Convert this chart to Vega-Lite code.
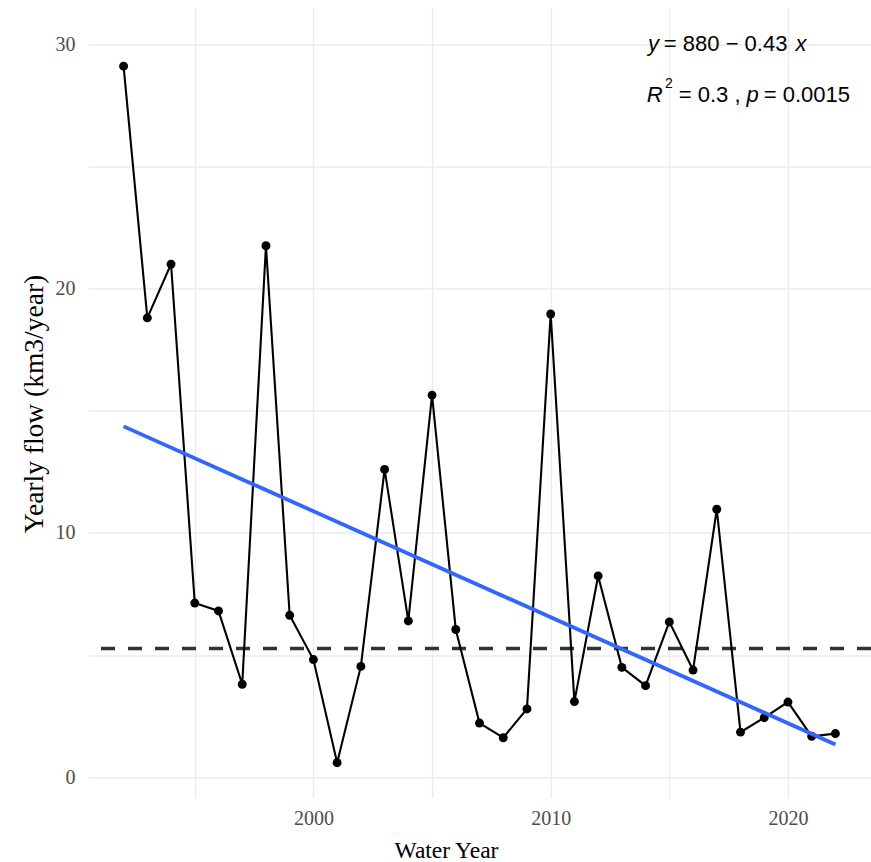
{
  "$schema": "https://vega.github.io/schema/vega-lite/v6.json",
  "width": 783,
  "height": 790,
  "autosize": {"type": "none"},
  "padding": {"left": 88, "top": 7.5, "right": 0, "bottom": 64.5},
  "background": "white",
  "config": {
    "view": {"stroke": null},
    "axis": {
      "domain": false,
      "ticks": false,
      "gridColor": "#EBEBEB",
      "gridWidth": 1.4,
      "labelFont": "Liberation Serif",
      "labelFontSize": 20,
      "labelColor": "#4D4D4D",
      "titleFont": "Liberation Serif",
      "titleFontWeight": "normal",
      "titleColor": "black"
    },
    "text": {"font": "Liberation Sans", "fontSize": 22, "align": "left", "baseline": "middle", "color": "black"}
  },
  "datasets": {
    "flow": [
      {"year": 1992, "flow": 29.1},
      {"year": 1993, "flow": 18.8},
      {"year": 1994, "flow": 21.0},
      {"year": 1995, "flow": 7.13},
      {"year": 1996, "flow": 6.81},
      {"year": 1997, "flow": 3.81},
      {"year": 1998, "flow": 21.75},
      {"year": 1999, "flow": 6.63},
      {"year": 2000, "flow": 4.82},
      {"year": 2001, "flow": 0.6},
      {"year": 2002, "flow": 4.54},
      {"year": 2003, "flow": 12.6},
      {"year": 2004, "flow": 6.4},
      {"year": 2005, "flow": 15.64},
      {"year": 2006, "flow": 6.05},
      {"year": 2007, "flow": 2.22},
      {"year": 2008, "flow": 1.62},
      {"year": 2009, "flow": 2.8},
      {"year": 2010, "flow": 18.96},
      {"year": 2011, "flow": 3.1},
      {"year": 2012, "flow": 8.24},
      {"year": 2013, "flow": 4.5},
      {"year": 2014, "flow": 3.75},
      {"year": 2015, "flow": 6.36},
      {"year": 2016, "flow": 4.39},
      {"year": 2017, "flow": 10.97},
      {"year": 2018, "flow": 1.85},
      {"year": 2019, "flow": 2.44},
      {"year": 2020, "flow": 3.08},
      {"year": 2021, "flow": 1.68},
      {"year": 2022, "flow": 1.79}
    ],
    "one": [{"k": 1}]
  },
  "layer": [
    {
      "data": {"name": "flow"},
      "mark": {"type": "line", "color": "black", "strokeWidth": 2, "opacity": 0},
      "encoding": {
        "x": {
          "field": "year",
          "type": "quantitative",
          "scale": {"domain": [1990.5, 2023.5], "nice": false, "zero": false},
          "axis": {
            "title": "Water Year",
            "titleFontSize": 23.5,
            "values": [1995, 2000, 2005, 2010, 2015, 2020],
            "format": "d",
            "labelExpr": "datum.value % 10 === 0 ? datum.label : ''",
            "labelPadding": 11,
            "titleX": 358,
            "titleY": 60,
            "titleAlign": "center",
            "titleBaseline": "alphabetic"
          }
        },
        "y": {
          "field": "flow",
          "type": "quantitative",
          "scale": {"domain": [-0.825, 31.5], "nice": false, "zero": false},
          "axis": {
            "title": "Yearly flow (km3/year)",
            "titleFontSize": 27.5,
            "values": [0, 5, 10, 15, 20, 25, 30],
            "labelExpr": "datum.value % 10 === 0 ? datum.label : ''",
            "labelPadding": 13,
            "titleX": -46,
            "titleY": 396,
            "titleAlign": "center",
            "titleAngle": -90,
            "titleBaseline": "alphabetic"
          }
        }
      }
    },
    {
      "data": {"name": "one"},
      "mark": {"type": "rule", "color": "#333333", "strokeWidth": 3.5, "strokeDash": [14, 13]},
      "encoding": {"y": {"datum": 5.27, "type": "quantitative"}}
    },
    {
      "data": {"name": "flow"},
      "mark": {"type": "line", "color": "black", "strokeWidth": 2.1},
      "encoding": {
        "x": {"field": "year", "type": "quantitative"},
        "y": {"field": "flow", "type": "quantitative"}
      }
    },
    {
      "data": {"name": "flow"},
      "mark": {"type": "point", "filled": true, "color": "black", "size": 80, "opacity": 1},
      "encoding": {
        "x": {"field": "year", "type": "quantitative"},
        "y": {"field": "flow", "type": "quantitative"}
      }
    },
    {
      "data": {"name": "flow"},
      "transform": [{"regression": "flow", "on": "year", "extent": [1992, 2022]}],
      "mark": {"type": "line", "color": "#3366FF", "strokeWidth": 3.8},
      "encoding": {
        "x": {"field": "year", "type": "quantitative"},
        "y": {"field": "flow", "type": "quantitative"}
      }
    },
    {
      "data": {"name": "one"},
      "mark": {"type": "text", "text": "y", "fontStyle": "italic"},
      "encoding": {"x": {"datum": 2014.1, "type": "quantitative"}, "y": {"datum": 30.0, "type": "quantitative"}}
    },
    {
      "data": {"name": "one"},
      "mark": {"type": "text", "text": "= 880 − 0.43"},
      "encoding": {"x": {"datum": 2014.77, "type": "quantitative"}, "y": {"datum": 30.0, "type": "quantitative"}}
    },
    {
      "data": {"name": "one"},
      "mark": {"type": "text", "text": "x", "fontStyle": "italic"},
      "encoding": {"x": {"datum": 2020.32, "type": "quantitative"}, "y": {"datum": 30.0, "type": "quantitative"}}
    },
    {
      "data": {"name": "one"},
      "mark": {"type": "text", "text": "R", "fontStyle": "italic"},
      "encoding": {"x": {"datum": 2014.05, "type": "quantitative"}, "y": {"datum": 27.92, "type": "quantitative"}}
    },
    {
      "data": {"name": "one"},
      "mark": {"type": "text", "text": "2", "fontSize": 14},
      "encoding": {"x": {"datum": 2014.82, "type": "quantitative"}, "y": {"datum": 28.38, "type": "quantitative"}}
    },
    {
      "data": {"name": "one"},
      "mark": {"type": "text", "text": "= 0.3 ,"},
      "encoding": {"x": {"datum": 2015.4, "type": "quantitative"}, "y": {"datum": 27.92, "type": "quantitative"}}
    },
    {
      "data": {"name": "one"},
      "mark": {"type": "text", "text": "p", "fontStyle": "italic"},
      "encoding": {"x": {"datum": 2018.25, "type": "quantitative"}, "y": {"datum": 27.92, "type": "quantitative"}}
    },
    {
      "data": {"name": "one"},
      "mark": {"type": "text", "text": "= 0.0015"},
      "encoding": {"x": {"datum": 2018.98, "type": "quantitative"}, "y": {"datum": 27.92, "type": "quantitative"}}
    }
  ]
}
